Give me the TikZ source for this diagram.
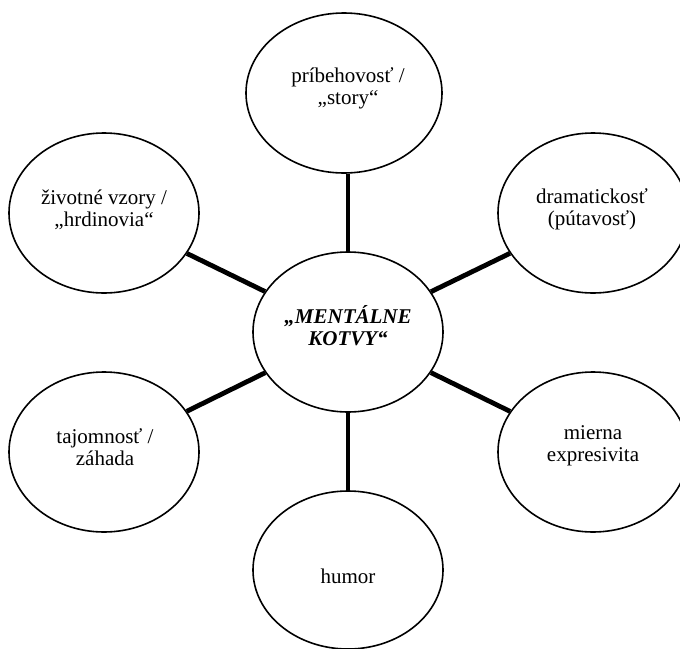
\documentclass[tikz,border=0pt]{standalone}
\usepackage{fontspec}
\setmainfont{Liberation Serif}
\usetikzlibrary{shapes.geometric}

\tikzset{
  bubble/.style={ellipse, draw=black, line width=1.6pt, fill=white,
    inner sep=0pt, minimum width=190pt, minimum height=160pt},
  txt/.style={align=center, font=\fontsize{21}{22}\selectfont, inner sep=0pt},
  keytxt/.style={txt, font=\fontsize{21}{22}\selectfont\bfseries\itshape},
  spoke/.style={line width=4.8pt, black}
}

\begin{document}
\begin{tikzpicture}[x=1pt, y=-1pt]
  \useasboundingbox (0,0) rectangle (680,648);
  \clip (0,0) rectangle (680,648);

  % the seven ellipses
  \node[bubble] (cen) at (348,332) {};
  \node[bubble, minimum width=196pt] (top) at (344,93) {};
  \node[bubble] (tl)  at (104,213) {};
  \node[bubble] (tr)  at (593,213) {};
  \node[bubble] (bl)  at (104,452) {};
  \node[bubble] (br)  at (593,452) {};
  \node[bubble, minimum height=158pt] (hum) at (348,570) {};

  % spokes from the central bubble
  \draw[spoke] (cen.north) -- (top.south -| cen.north);
  \draw[spoke] (cen.south) -- (hum.north);
  \draw[spoke] (cen) -- (tl);
  \draw[spoke] (cen) -- (tr);
  \draw[spoke] (cen) -- (bl);
  \draw[spoke] (cen) -- (br);

  % texts
  \node[keytxt] (tcen) at (348,326) {„MENTÁLNE\\KOTVY“};
  \node[txt] (ttop) at (348,88)  {príbehovosť /\\„story“};
  \node[txt] (ttl)  at (104,210) {životné vzory /\\„hrdinovia“};
  \node[txt] (ttr)  at (592,209) {dramatickosť\\(pútavosť)};
  \node[txt] (tbl)  at (105,447) {tajomnosť /\\záhada};
  \node[txt] (tbr)  at (593,446) {mierna\\expresivita};
  \node[txt] (thum) at (348,576) {humor};
\end{tikzpicture}
\end{document}
